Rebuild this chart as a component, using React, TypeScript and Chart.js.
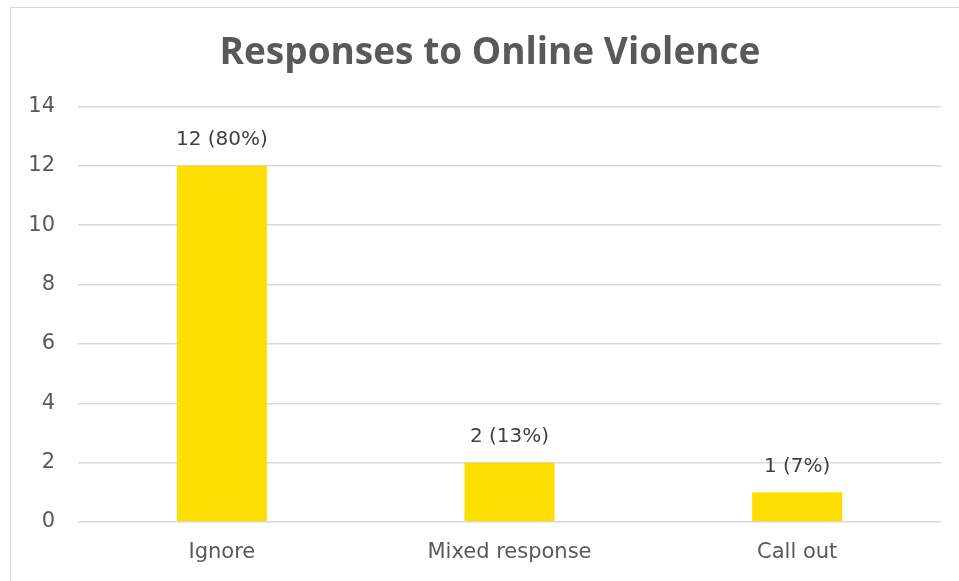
import React, { useEffect, useRef } from "react";
import { Chart, registerables } from "chart.js";

Chart.register(...registerables);

const categories = ["Ignore", "Mixed response", "Call out"];
const counts = [12, 2, 1];
const yTicks = [0, 2, 4, 6, 8, 10, 12, 14];
const chartTitle = "Responses to Online Violence";

const TITLE_FONT = "'Open Sans', Lato, sans-serif";
const FONT = "'DejaVu Sans', 'Open Sans', sans-serif";

const barLabels = {
  id: "barLabels",
  afterDatasetsDraw(chart: any) {
    const { ctx } = chart;
    const meta = chart.getDatasetMeta(0);
    const total = counts.reduce((a, b) => a + b, 0);
    ctx.save();
    ctx.font = `20px ${FONT}`;
    ctx.fillStyle = "#404040";
    ctx.textAlign = "center";
    ctx.textBaseline = "middle";
    meta.data.forEach((el: any, i: number) => {
      const v = counts[i];
      const pct = Math.round((v / total) * 100);
      ctx.fillText(`${v} (${pct}%)`, el.x, el.y - 26);
    });
    ctx.restore();
  },
};

// The reference title is centred on the bordered frame, not on the canvas.
const titleShift = {
  id: "titleShift",
  afterLayout(chart: any) {
    if (chart.titleBlock) chart.titleBlock.left = 39;
  },
};

export default function App() {
  const ref = useRef<HTMLCanvasElement | null>(null);
  useEffect(() => {
    document.body.style.overflow = "hidden";
    const chart = new Chart(ref.current!, {
      type: "bar",
      data: {
        labels: categories,
        datasets: [
          {
            data: counts,
            backgroundColor: "#FCDF00",
            categoryPercentage: 1,
            barPercentage: 0.313,
          },
        ],
      },
      options: {
        animation: false,
        responsive: false,
        maintainAspectRatio: false,
        layout: { padding: { left: 0, right: 18, top: 0, bottom: 0 } },
        plugins: {
          legend: { display: false },
          tooltip: { enabled: false },
          title: {
            display: true,
            text: chartTitle,
            color: "#595959",
            font: { family: TITLE_FONT, size: 37, weight: "bold" },
            padding: { top: 31, bottom: 31 },
          },
        },
        scales: {
          x: {
            grid: { display: false, drawTicks: false },
            border: { display: false },
            ticks: { color: "#595959", font: { family: FONT, size: 21 }, padding: 18 },
            afterFit(s: any) {
              s.height = 59;
            },
          },
          y: {
            min: 0,
            max: 14,
            afterBuildTicks(s: any) {
              s.ticks = yTicks.map((v) => ({ value: v }));
            },
            grid: { color: "#d9d9d9", lineWidth: 1.5, drawTicks: false },
            border: { display: false },
            ticks: { color: "#595959", font: { family: FONT, size: 21 }, padding: 23 },
            afterFit(s: any) {
              s.width = 78;
            },
          },
        },
      },
      plugins: [barLabels, titleShift],
    });
    return () => chart.destroy();
  }, []);
  return (
    <div style={{ position: "fixed", left: 0, top: 0, width: 959, height: 581, overflow: "hidden", background: "#fff" }}>
      <canvas ref={ref} width={959} height={581} style={{ position: "absolute", left: 0, top: 0 }} />
      <div
        style={{
          position: "absolute",
          left: 10,
          top: 7,
          width: 1000,
          height: 1000,
          border: "1.5px solid #d9d9d9",
          pointerEvents: "none",
        }}
      />
    </div>
  );
}
